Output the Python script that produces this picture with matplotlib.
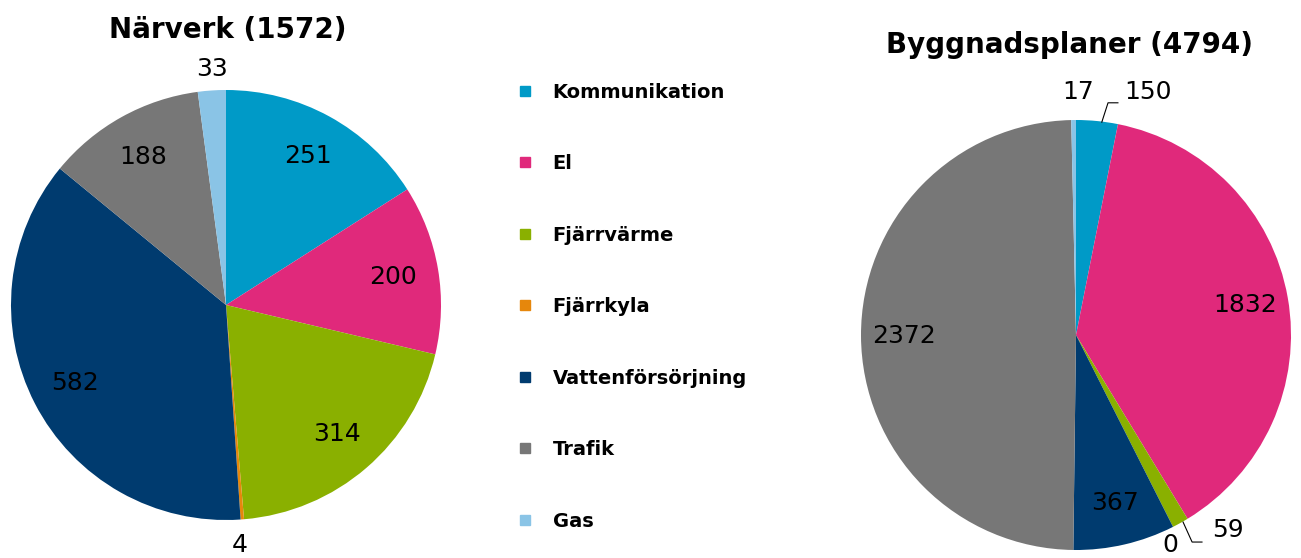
import numpy as np
import matplotlib.pyplot as plt
from matplotlib.lines import Line2D

categories = ["Kommunikation", "El", "Fjärrvärme", "Fjärrkyla",
              "Vattenförsörjning", "Trafik", "Gas"]
colors = ["#009ac7", "#e0297b", "#8ab000", "#e6870c", "#003b6f", "#777777", "#8ac4e6"]

narverk = [251, 200, 314, 4, 582, 188, 33]
bygg = [150, 1832, 59, 0, 367, 2372, 17]
titles = ["Närverk (1572)", "Byggnadsplaner (4794)"]

W, H = 1301, 558
fig = plt.figure(figsize=(W / 100, H / 100), dpi=100)


def pie_axes(cx, cy, r):
    # cx, cy, r in pixels (y from top)
    ax = fig.add_axes([(cx - r) / W, (H - cy - r) / H, 2 * r / W, 2 * r / H])
    ax.axis("off")
    return ax


def draw_pie(ax, vals, dist, fixed):
    wedges, _ = ax.pie(vals, colors=colors, startangle=90, counterclock=False,
                       radius=1, wedgeprops=dict(linewidth=0))
    ax.set_xlim(-1, 1)
    ax.set_ylim(-1, 1)
    ax.set_aspect("equal")
    for i, w in enumerate(wedges):
        if i in fixed:
            x, y = fixed[i]
        else:
            a = np.deg2rad((w.theta1 + w.theta2) / 2)
            x, y = dist * np.cos(a), dist * np.sin(a)
        ax.text(x, y, str(vals[i]), ha="center", va="center",
                fontsize=18, color="black", clip_on=False)
    return wedges


# left pie
ax1 = pie_axes(226, 305, 215)
draw_pie(ax1, narverk, 0.79, {3: (0.065, -1.116), 6: (-0.065, 1.10)})
fig.text(228 / W, 1 - 30 / H, titles[0], ha="center", va="center",
         fontsize=20, fontweight="bold")

# right pie
ax2 = pie_axes(1076, 335, 215)
draw_pie(ax2, bygg, 0.8, {0: (0.335, 1.13), 2: (0.707, -0.907),
                          3: (0.437, -0.975), 6: (0.01, 1.13)})
# leader lines for small slices
ax2.plot([0.12, 0.149, 0.195], [0.99, 1.08, 1.08], color="black", lw=0.8, clip_on=False)
ax2.plot([0.498, 0.54, 0.586], [-0.87, -0.963, -0.963], color="black", lw=0.8, clip_on=False)
fig.text(1070 / W, 1 - 45 / H, titles[1], ha="center", va="center",
         fontsize=20, fontweight="bold")

handles = [Line2D([], [], marker="s", linestyle="", markersize=7,
                  markerfacecolor=c, markeredgecolor=c) for c in colors]
fig.legend(handles, categories, loc="upper left", bbox_to_anchor=(502 / W, 1 - 75 / H),
           frameon=False, prop=dict(size=14, weight="bold"), labelspacing=2.7,
           handletextpad=0.6, handlelength=1.6, borderaxespad=0)

fig.savefig("out.png", dpi=100)
